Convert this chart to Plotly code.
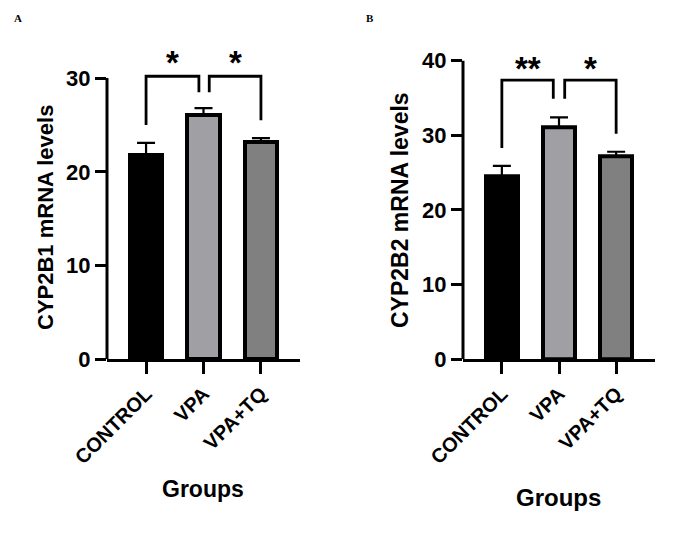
import plotly.graph_objects as go

# ---------------- data ----------------
categories = ["CONTROL", "VPA", "VPA+TQ"]
bar_colors = ["#000000", "#a0a0a4", "#808080"]

cyp2b1_mean = [21.8, 26.1, 23.2]
cyp2b1_sem = [1.3, 0.7, 0.4]

cyp2b2_mean = [24.5, 31.1, 27.2]
cyp2b2_sem = [1.4, 1.3, 0.6]

yticks_a = [0, 10, 20, 30]
yticks_b = [0, 10, 20, 30, 40]

# significance brackets: (x_left, x_right, y_top, y_left_leg, y_right_leg, label)
sig_a = [
    (0.0, 0.92, 30.2, 25.0, 28.5, "*"),
    (1.10, 2.0, 30.2, 28.5, 25.5, "*"),
]
sig_b = [
    (0.0, 0.90, 37.4, 28.3, 34.9, "**"),
    (1.10, 2.0, 37.4, 34.9, 30.2, "*"),
]

FONT = "Liberation Sans, Arial, sans-serif"
W, H = 679, 542

fig = go.Figure()

def add_panel(xa, ya, means, sems, sigs, ymax_axis):
    xs = list(range(len(categories)))
    fig.add_trace(go.Bar(
        x=xs, y=means, width=0.57,
        marker=dict(color=bar_colors, line=dict(color="black", width=4)),
        error_y=dict(type="data", symmetric=False, array=sems,
                     arrayminus=[0] * len(sems), color="black",
                     thickness=2.2, width=9),
        xaxis=xa, yaxis=ya, showlegend=False, hoverinfo="skip",
    ))
    for (x0, x1, yt, yl0, yl1, lab) in sigs:
        fig.add_trace(go.Scatter(
            x=[x0, x0, x1, x1], y=[yl0, yt, yt, yl1], mode="lines",
            line=dict(color="black", width=2.8),
            xaxis=xa, yaxis=ya, showlegend=False, hoverinfo="skip",
        ))
    # y-axis line only up to top tick
    fig.add_shape(type="line", xref=xa + " domain", yref=ya,
                  x0=0, x1=0, y0=0, y1=ymax_axis,
                  line=dict(color="black", width=3))

add_panel("x", "y", cyp2b1_mean, cyp2b1_sem, sig_a, yticks_a[-1])
add_panel("x2", "y2", cyp2b2_mean, cyp2b2_sem, sig_b, yticks_b[-1])

def py(p):  # pixel row -> paper fraction
    return (H - p) / H

def px(p):
    return p / W

xaxis_common = dict(
    range=[-0.68, 2.68], tickvals=[0, 1, 2], ticktext=categories,
    tickangle=-45, ticks="outside", ticklen=12, tickwidth=3, tickcolor="black",
    showline=True, linewidth=3, linecolor="black", showgrid=False, zeroline=False,
    tickfont=dict(family=FONT, size=20, color="black", weight="bold"),
    fixedrange=True, automargin=False,
)
yaxis_common = dict(
    ticks="outside", ticklen=11, tickwidth=3, tickcolor="black",
    showline=False, showgrid=False, zeroline=False,
    tickfont=dict(family=FONT, size=22, color="black", weight="bold"),
    fixedrange=True, automargin=False,
)

fig.update_layout(
    width=W, height=H, margin=dict(l=0, r=0, t=0, b=0, pad=0, autoexpand=False),
    paper_bgcolor="white", plot_bgcolor="rgba(0,0,0,0)",
    bargap=0,
    xaxis=dict(domain=[px(107), px(300)], anchor="y", **xaxis_common),
    yaxis=dict(domain=[py(359.3), py(50)], anchor="x", range=[0, 33],
               tickvals=yticks_a, **yaxis_common),
    xaxis2=dict(domain=[px(463), px(655)], anchor="y2", **xaxis_common),
    yaxis2=dict(domain=[py(359.3), py(53.2)], anchor="x2", range=[0, 41],
                tickvals=yticks_b, **yaxis_common),
)

annotations = []
# stars
for xa, ya, sigs, ystar in (("x", "y", sig_a, 32.3), ("x2", "y2", sig_b, 39.8)):
    for (x0, x1, yt, yl0, yl1, lab) in sigs:
        annotations.append(dict(
            x=(x0 + x1) / 2, y=ystar, xref=xa, yref=ya, text=lab, showarrow=False,
            font=dict(family=FONT, size=33, color="black", weight="bold"),
            xanchor="center", yanchor="middle", yshift=-6,
        ))
# axis titles
annotations += [
    dict(x=px(45), y=py(218), xref="paper", yref="paper", text="CYP2B1 mRNA levels",
         textangle=-90, showarrow=False, xanchor="center", yanchor="middle",
         font=dict(family=FONT, size=22, color="black", weight="bold")),
    dict(x=px(400), y=py(210), xref="paper", yref="paper", text="CYP2B2 mRNA levels",
         textangle=-90, showarrow=False, xanchor="center", yanchor="middle",
         font=dict(family=FONT, size=23, color="black", weight="bold")),
    dict(x=px(203), y=py(489), xref="paper", yref="paper", text="Groups",
         showarrow=False, xanchor="center", yanchor="middle",
         font=dict(family=FONT, size=23, color="black", weight="bold")),
    dict(x=px(558), y=py(497), xref="paper", yref="paper", text="Groups",
         showarrow=False, xanchor="center", yanchor="middle",
         font=dict(family=FONT, size=24, color="black", weight="bold")),
    dict(x=px(18), y=py(18), xref="paper", yref="paper", text="A",
         showarrow=False, xanchor="center", yanchor="middle",
         font=dict(family="Liberation Serif, Times New Roman, serif", size=11,
                   color="black", weight="bold")),
    dict(x=px(370), y=py(18), xref="paper", yref="paper", text="B",
         showarrow=False, xanchor="center", yanchor="middle",
         font=dict(family="Liberation Serif, Times New Roman, serif", size=11,
                   color="black", weight="bold")),
]
fig.update_layout(annotations=annotations)

fig.write_html("out.html")
